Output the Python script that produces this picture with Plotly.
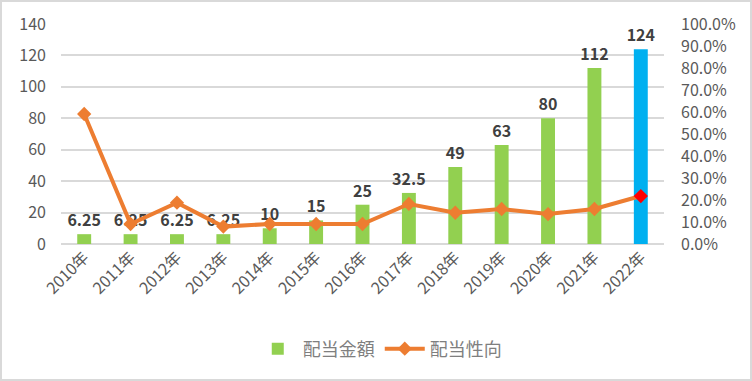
import plotly.graph_objects as go

years = ["2010年", "2011年", "2012年", "2013年", "2014年", "2015年", "2016年",
         "2017年", "2018年", "2019年", "2020年", "2021年", "2022年"]
dividends = [6.25, 6.25, 6.25, 6.25, 10, 15, 25, 32.5, 49, 63, 80, 112, 124]
dividend_labels = ["6.25", "6.25", "6.25", "6.25", "10", "15", "25", "32.5", "49", "63", "80", "112", "124"]
payout_ratio = [0.591, 0.091, 0.188, 0.079, 0.091, 0.091, 0.091, 0.182, 0.142, 0.159, 0.136, 0.159, 0.218]

GREEN = "#92D050"
BLUE = "#00B0F0"
ORANGE = "#ED7D31"
RED = "#FF0000"

bar_colors = [GREEN] * (len(years) - 1) + [BLUE]
marker_colors = [ORANGE] * (len(years) - 1) + [RED]

FONT = "Noto Sans CJK JP"

fig = go.Figure()
fig.add_trace(go.Bar(
    x=years, y=dividends, name="配当金額",
    marker=dict(color=bar_colors, line=dict(width=0)),
    text=dividend_labels, textposition="outside", constraintext="none",
    textfont=dict(family=FONT, size=16, color="#404040", weight="bold"),
    cliponaxis=False, width=0.3,
))
fig.add_trace(go.Scatter(
    x=years, y=payout_ratio, name="配当性向", yaxis="y2",
    mode="lines+markers",
    line=dict(color=ORANGE, width=4),
    marker=dict(symbol="diamond", size=11, color=marker_colors),
))

W, H = 752, 381
L, R, T, B = 61, 88, 24, 137
pw, ph = W - L - R, H - T - B

fig.update_layout(
    width=W, height=H,
    margin=dict(l=L, r=R, t=T, b=B, autoexpand=False),
    paper_bgcolor="white", plot_bgcolor="white",
    font=dict(family=FONT, color="#595959", size=16),
    showlegend=True,
    legend=dict(orientation="h", xref="container", yref="container",
                x=0.505, xanchor="center", y=1 - 349 / H, yanchor="middle",
                font=dict(size=18, color="#7F7F7F"), traceorder="normal", itemwidth=40),
    xaxis=dict(tickangle=-45, showgrid=False, showline=False, ticks="", automargin=False,
               range=[-0.5, len(years) - 0.5],
               tickfont=dict(size=16, color="#595959")),
    yaxis=dict(range=[0, 140], dtick=20, showgrid=True, gridcolor="#D9D9D9", gridwidth=1.5,
               zeroline=True, zerolinecolor="#D9D9D9", zerolinewidth=1.5, automargin=False,
               tickfont=dict(size=16, color="#595959"), ticks="", ticklabelstandoff=14),
    yaxis2=dict(range=[0, 1], dtick=0.1, tickformat=".1%", overlaying="y", side="right",
                showgrid=False, zeroline=False, automargin=False,
                tickfont=dict(size=16, color="#595959"), ticklabelstandoff=16),
    shapes=[dict(type="rect", xref="paper", yref="paper",
                 x0=(1 - L) / pw, x1=(W - L - 1) / pw,
                 y0=-(B - 1) / ph, y1=1 + (T - 1) / ph,
                 line=dict(color="#D9D9D9", width=2), fillcolor="rgba(0,0,0,0)", layer="below")],
)

fig.write_html("out.html", config={"displayModeBar": False},
               post_script="document.body.style.margin='0';document.body.style.overflow='hidden';")
